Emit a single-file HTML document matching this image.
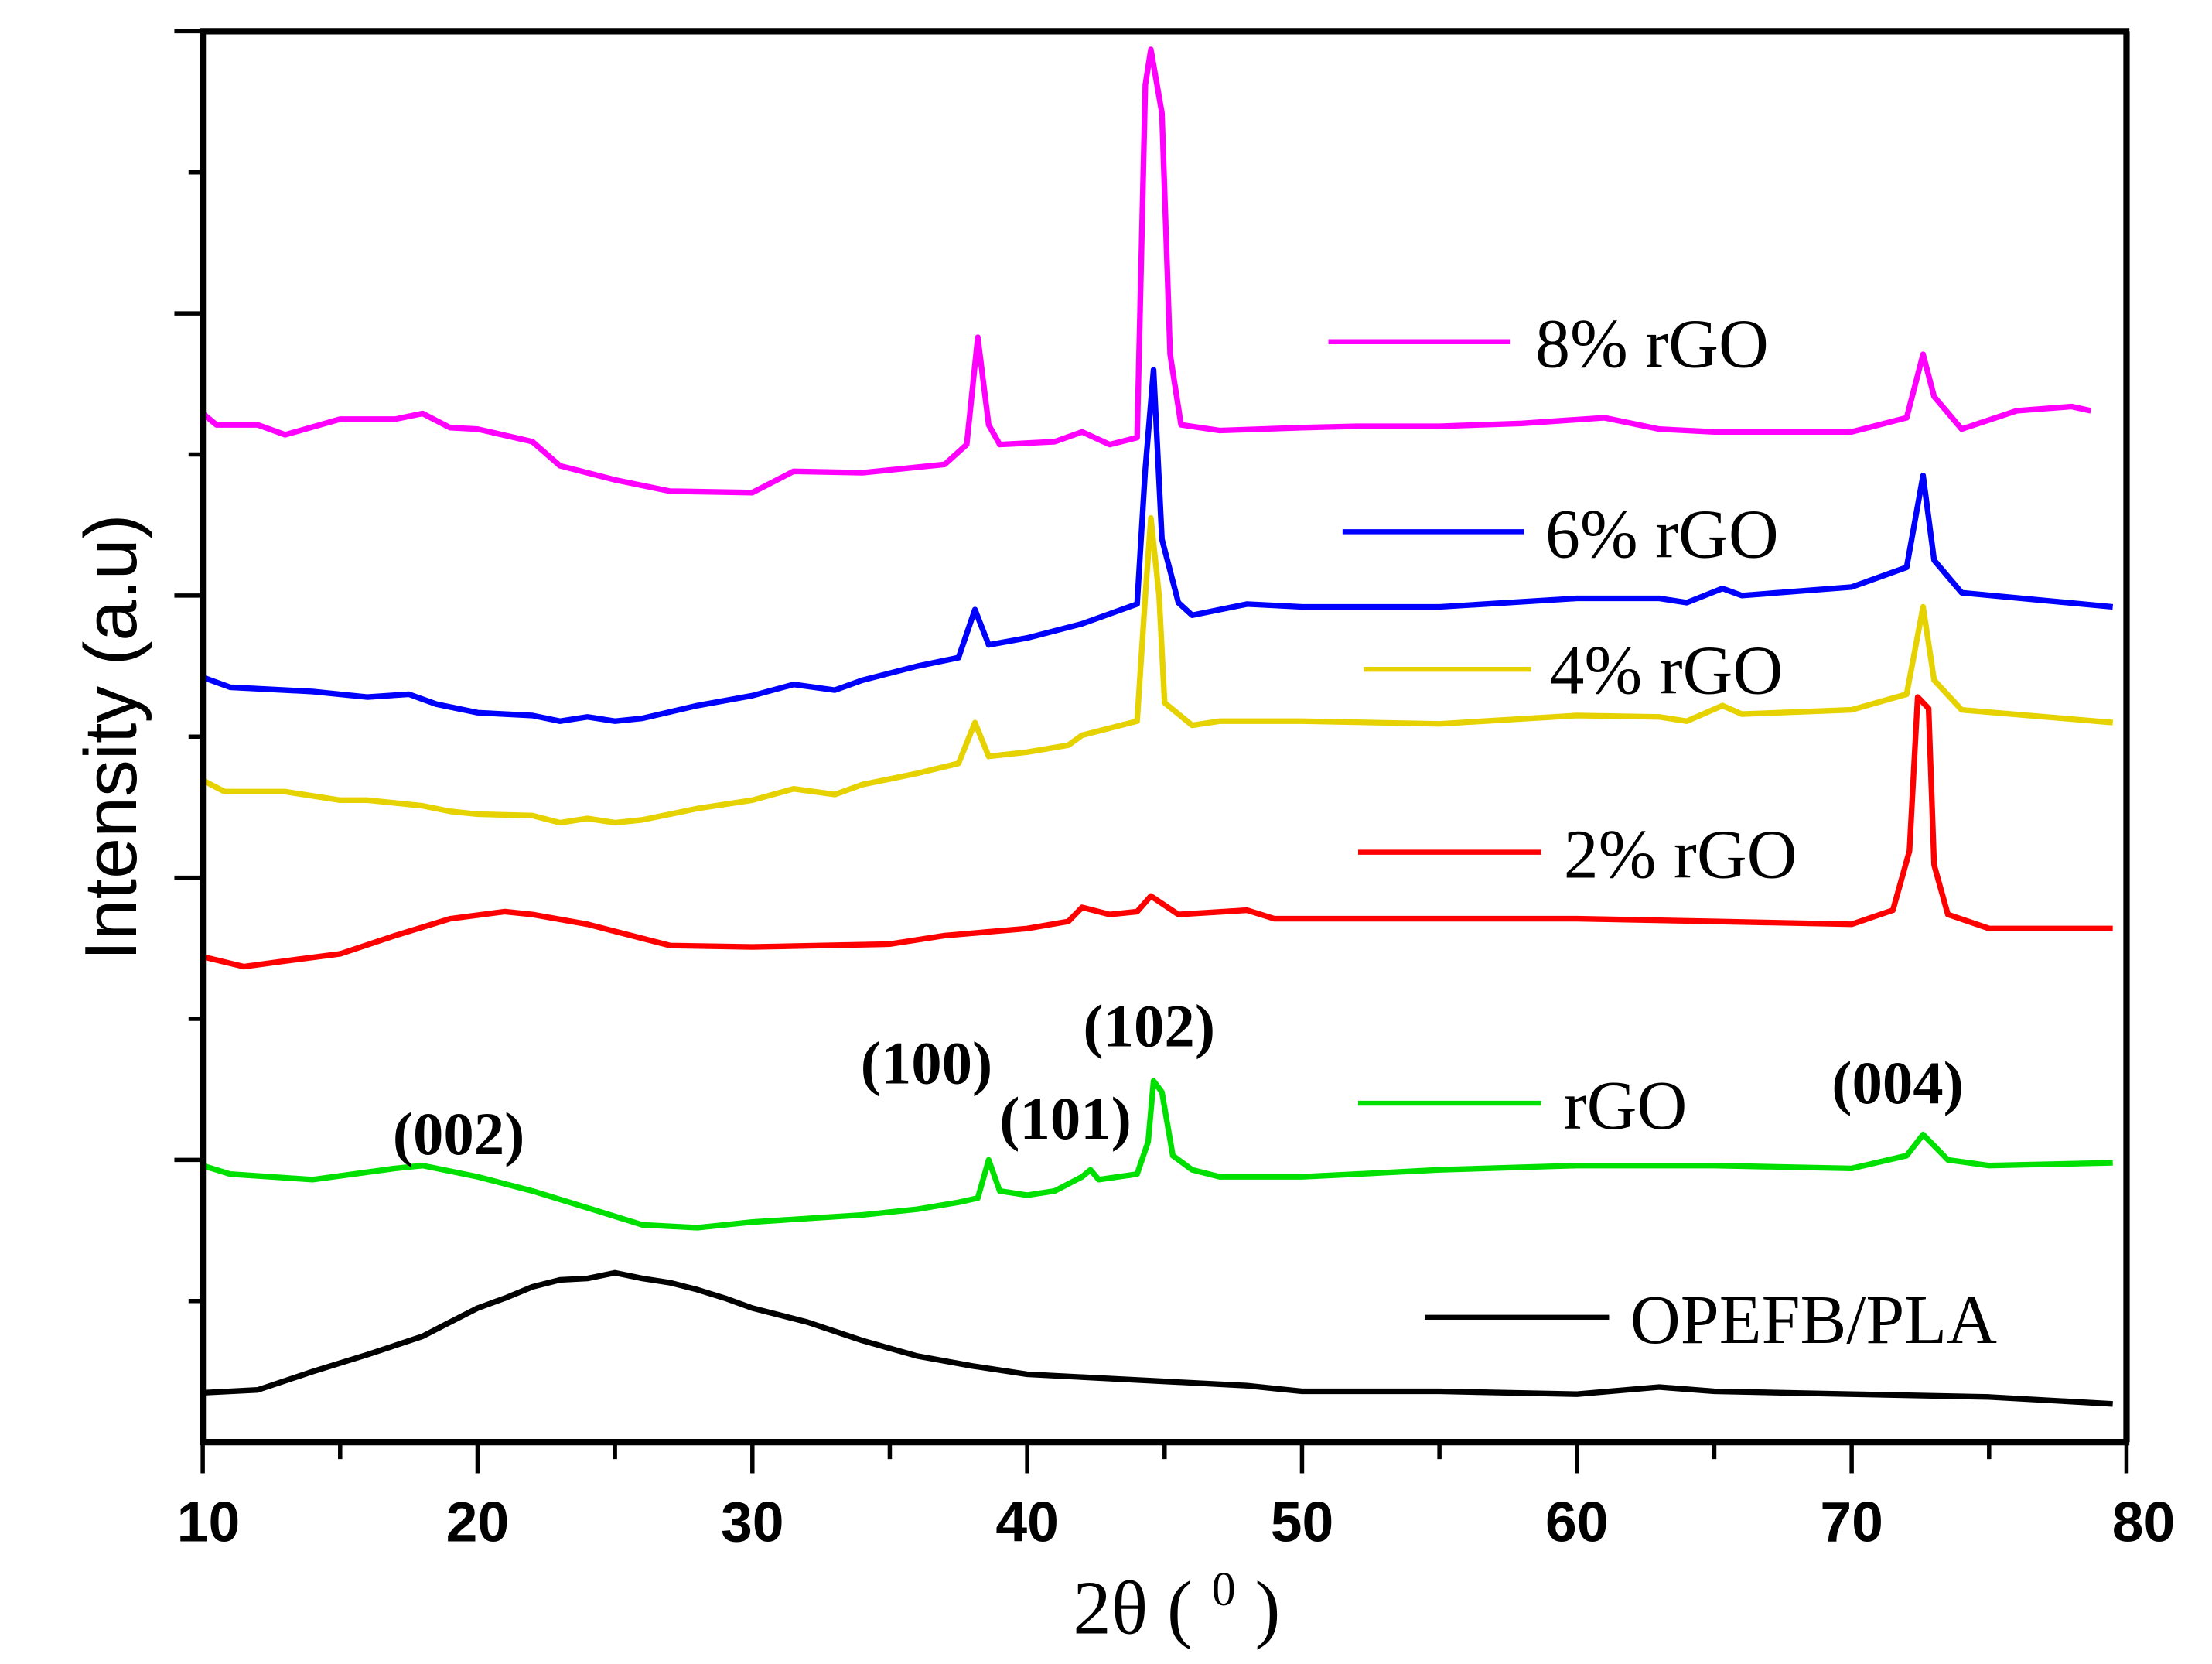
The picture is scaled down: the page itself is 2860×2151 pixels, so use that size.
<!DOCTYPE html>
<html><head><meta charset="utf-8"><style>html,body{margin:0;padding:0;background:#fff}svg{display:block}</style></head>
<body>
<svg id="chart" width="2860" height="2151" viewBox="0 0 1560.3 1173.5" xmlns="http://www.w3.org/2000/svg">
<rect width="1560.3" height="1173.5" fill="#fff"/>
<g id="series"></g>
<g id="axes"></g>
<g font-family="Liberation Serif, serif" font-size="49">
<line x1="937" y1="241" x2="1065" y2="241" stroke="#ff00ff" stroke-width="3.5"/><text x="1083" y="259">8% rGO</text>
<line x1="947" y1="375" x2="1075" y2="375" stroke="#0000ff" stroke-width="3.5"/><text x="1090" y="393">6% rGO</text>
<line x1="962" y1="472" x2="1080" y2="472" stroke="#e6d200" stroke-width="3.5"/><text x="1093" y="489">4% rGO</text>
<line x1="958" y1="601" x2="1087" y2="601" stroke="#ff0000" stroke-width="3.5"/><text x="1103" y="619">2% rGO</text>
<line x1="958" y1="778" x2="1087" y2="778" stroke="#00e000" stroke-width="3.5"/><text x="1103" y="796">rGO</text>
<line x1="1005" y1="929" x2="1135" y2="929" stroke="#000" stroke-width="3.5"/><text x="1150" y="947">OPEFB/PLA</text>
</g>
<g font-family="Liberation Serif, serif" font-size="43" font-weight="bold">
<text x="277" y="814">(002)</text>
<text x="607" y="764">(100)</text>
<text x="705" y="803">(101)</text>
<text x="764" y="738">(102)</text>
<text x="1292" y="778">(004)</text>
</g>
<text x="830" y="1152" text-anchor="middle" font-family="Liberation Serif, serif" font-size="54">2θ ( <tspan font-size="34" dy="-20">0</tspan><tspan dy="20"> )</tspan></text>
<text transform="translate(96,520) rotate(-90)" text-anchor="middle" font-family="Liberation Sans, sans-serif" font-size="52">Intensity (a.u)</text>
<script>
const xTicks=[10,20,30,40,50,60,70,80];
const xTickLabels=["10","20","30","40","50","60","70","80"];
const blackX=[10,12,14,16,18,19,20,21,22,23,24,25,26,27,28,29,30,32,34,36,38,40,45,48,50,55,60,63,65,70,75,79.5];
const blackY=[0.35,0.37,0.5,0.62,0.75,0.85,0.95,1.02,1.1,1.15,1.16,1.2,1.16,1.13,1.08,1.02,0.95,0.85,0.72,0.61,0.54,0.48,0.43,0.4,0.36,0.36,0.34,0.39,0.36,0.34,0.32,0.27];
const greenX=[10,11,14,17,18,20,22,24,26,28,30,34,36,37.5,38.2,38.6,39,40,41,42,42.3,42.6,44,44.4,44.6,44.9,45.3,46,47,50,52,55,60,65,70,72,72.6,73,73.5,75,79.5];
const greenY=[1.96,1.9,1.86,1.94,1.96,1.88,1.78,1.66,1.54,1.52,1.56,1.61,1.65,1.7,1.73,2.0,1.78,1.75,1.78,1.88,1.93,1.86,1.9,2.13,2.56,2.48,2.03,1.93,1.88,1.88,1.9,1.93,1.96,1.96,1.94,2.03,2.18,2.1,2.0,1.96,1.98];
const redX=[10,11.5,13,15,17,19,21,22,24,26,27,30,35,37,40,41.5,42,43,44,44.5,45.5,48,49,55,60,65,70,71.5,72.1,72.4,72.8,73,73.5,75,79.5];
const redY=[3.44,3.37,3.41,3.46,3.59,3.71,3.76,3.74,3.67,3.57,3.52,3.51,3.53,3.59,3.64,3.69,3.79,3.74,3.76,3.87,3.74,3.77,3.71,3.71,3.71,3.69,3.67,3.77,4.19,5.28,5.2,4.09,3.74,3.64,3.64];
const yellowX=[10,10.8,13,15,16,18,19,20,22,23,24,25,26,28,30,31.5,33,34,36,37.5,38.1,38.6,40,41.5,42,44,44.3,44.5,44.8,45,46,47,50,55,60,63,64,65.3,66,70,72,72.6,73,74,79.5];
const yellowY=[4.69,4.61,4.61,4.55,4.55,4.51,4.47,4.45,4.44,4.39,4.42,4.39,4.41,4.49,4.55,4.63,4.59,4.66,4.74,4.81,5.1,4.86,4.89,4.94,5.01,5.11,6.0,6.55,6.0,5.24,5.08,5.11,5.11,5.09,5.15,5.14,5.11,5.22,5.16,5.19,5.3,5.92,5.4,5.19,5.1];
const blueX=[10,11,14,16,17.5,18.5,20,22,23,24,25,26,28,30,31.5,33,34,36,37.5,38.1,38.6,40,42,44,44.3,44.6,44.9,45.5,46,48,50,55,60,63,64,65.3,66,70,72,72.6,73,74,79.5];
const blueY=[5.42,5.35,5.32,5.28,5.3,5.23,5.17,5.15,5.11,5.14,5.11,5.13,5.22,5.29,5.37,5.33,5.4,5.5,5.56,5.9,5.65,5.7,5.8,5.94,6.9,7.6,6.4,5.95,5.86,5.94,5.92,5.92,5.98,5.98,5.95,6.05,6.0,6.06,6.2,6.85,6.25,6.02,5.92];
const magentaX=[10,10.5,12,13,15,17,18,19,20,22,23,25,27,30,31.5,34,37,37.8,38.2,38.6,39,41,42,43,44,44.3,44.5,44.9,45.2,45.6,47,50,52,55,58,61,63,65,70,72,72.6,73,74,76,78,78.7];
const magentaY=[7.29,7.21,7.21,7.14,7.25,7.25,7.29,7.19,7.18,7.09,6.92,6.82,6.74,6.73,6.88,6.87,6.93,7.07,7.83,7.21,7.07,7.09,7.16,7.07,7.12,9.62,9.87,9.42,7.71,7.21,7.17,7.19,7.2,7.2,7.22,7.26,7.18,7.16,7.16,7.26,7.71,7.41,7.18,7.31,7.34,7.31];

const L=143,R=1500,T=22,B=1017;
function sx(v){return L+(v-10)*(R-L)/70;}
function sy(v){return B-v*99.5;}
const NS="http://www.w3.org/2000/svg";
const sg=document.getElementById('series');
const list=[["opefb-pla",blackX,blackY,"#000"],["rgo",greenX,greenY,"#00e000"],["rgo-2pct",redX,redY,"#ff0000"],["rgo-4pct",yellowX,yellowY,"#e6d200"],["rgo-6pct",blueX,blueY,"#0000ff"],["rgo-8pct",magentaX,magentaY,"#ff00ff"]];
list.forEach(s=>{
  const p=document.createElementNS(NS,'path');
  let d=s[1].map((x,i)=>(i?'L':'M')+sx(x).toFixed(1)+' '+sy(s[2][i]).toFixed(1)).join(' ');
  p.setAttribute('d',d);p.setAttribute('fill','none');p.setAttribute('stroke',s[3]);p.setAttribute('stroke-width','4');p.setAttribute('stroke-linejoin','round');
  
  
  sg.appendChild(p);
});
const ag=document.getElementById('axes');
function ln(x1,y1,x2,y2,w,name){const l=document.createElementNS(NS,'line');l.setAttribute('x1',x1);l.setAttribute('y1',y1);l.setAttribute('x2',x2);l.setAttribute('y2',y2);l.setAttribute('stroke','#000');l.setAttribute('stroke-width',w);
  
  
  ag.appendChild(l);}
ln(L,T,L,B+2,4.5,'y-axis-line');ln(L-2,B,R+2,B,4.5,'x-axis-line');ln(L-2,T,R+2,T,4.5,'top-frame');ln(R,T,R,B,4.5,'right-frame');
for(let v=10;v<=80;v+=5){const major=v%10===0;ln(sx(v),B,sx(v),B+(major?22:12),3,'x-tick');}
for(let i=1;i<=10;i++){const major=i%2===0;ln(L-(major?20:10),sy(i),L,sy(i),3,'y-tick');}
xTicks.forEach((v,i)=>{const t=document.createElementNS(NS,'text');t.setAttribute('x',sx(v)+(v===10?4:v===80?12:0));t.setAttribute('y',1087);t.setAttribute('text-anchor','middle');t.setAttribute('font-family','Liberation Sans, sans-serif');t.setAttribute('font-weight','bold');t.setAttribute('font-size','40');t.textContent=xTickLabels[i];
  
  
  ag.appendChild(t);});
</script>
</svg>
</body></html>
